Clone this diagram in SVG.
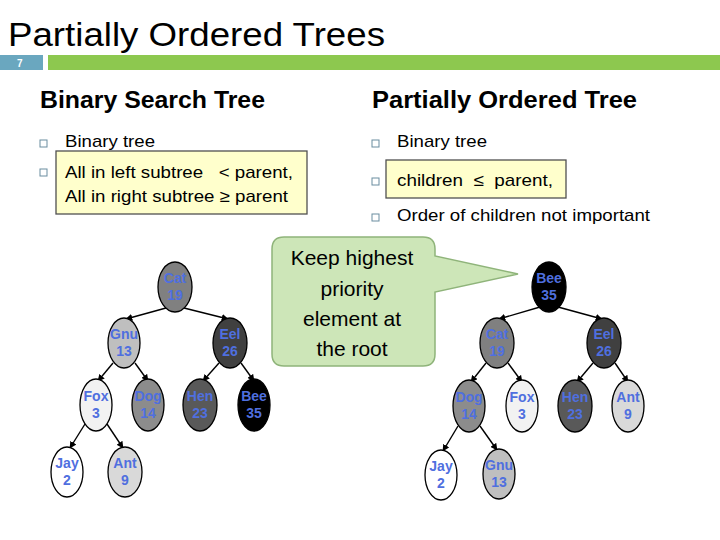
<svg xmlns="http://www.w3.org/2000/svg" width="720" height="540" viewBox="0 0 720 540">
<style>
.t{font-family:"Liberation Sans",Arial,sans-serif;fill:#000}
.h{font-family:"Liberation Sans",Arial,sans-serif;font-weight:bold;font-size:23px}
.b{font-family:"Liberation Sans",Arial,sans-serif;font-size:17px}
.n{font-family:"Liberation Sans",Arial,sans-serif;font-size:14px;font-weight:bold;fill:#4f6fdf;text-anchor:middle}
.e{stroke:#000;stroke-width:1.3}
.bul{fill:#fff;stroke:#6a8da0;stroke-width:1}
.c{stroke:#000;stroke-width:1.4;fill:none;marker-end:url(#ah)}
.cl{font-family:"Liberation Sans",Arial,sans-serif;font-size:21px;text-anchor:middle}
</style>
<defs>
<marker id="ah" viewBox="0 0 10 10" refX="9" refY="5" markerWidth="7" markerHeight="7" orient="auto" markerUnits="userSpaceOnUse">
<path d="M0,0 L10,5 L0,10 z" fill="#000"/>
</marker>
</defs>
<rect width="720" height="540" fill="#fff"/>
<text x="8" y="46" class="t" font-size="34" textLength="377" lengthAdjust="spacingAndGlyphs">Partially Ordered Trees</text>
<rect x="0" y="55" width="43" height="15" fill="#6aa7bf"/>
<text x="17" y="67" font-family="Liberation Sans,Arial,sans-serif" font-size="10" font-weight="bold" fill="#fff">7</text>
<rect x="48" y="55" width="672" height="15" fill="#8dc84f"/>

<text x="40" y="108" class="h" textLength="225" lengthAdjust="spacingAndGlyphs">Binary Search Tree</text>
<rect x="40" y="140" width="7" height="7" class="bul"/>
<text x="65" y="147" class="b" textLength="90" lengthAdjust="spacingAndGlyphs">Binary tree</text>
<rect x="40" y="169" width="7" height="7" class="bul"/>
<rect x="56" y="151" width="251" height="63" fill="#ffffcc" stroke="#505050" stroke-width="1.3"/>
<text x="65" y="178" class="b" xml:space="preserve" textLength="228" lengthAdjust="spacingAndGlyphs">All in left subtree   &lt; parent,</text>
<text x="65" y="202" class="b" textLength="223" lengthAdjust="spacingAndGlyphs">All in right subtree ≥ parent</text>

<text x="372" y="108" class="h" textLength="265" lengthAdjust="spacingAndGlyphs">Partially Ordered Tree</text>
<rect x="372" y="140" width="7" height="7" class="bul"/>
<text x="397" y="147" class="b" textLength="90" lengthAdjust="spacingAndGlyphs">Binary tree</text>
<rect x="372" y="178" width="7" height="7" class="bul"/>
<rect x="386" y="160" width="180" height="38" fill="#ffffcc" stroke="#505050" stroke-width="1.3"/>
<text x="397" y="186" class="b" xml:space="preserve" textLength="156" lengthAdjust="spacingAndGlyphs">children  ≤  parent,</text>
<rect x="372" y="214" width="7" height="7" class="bul"/>
<text x="397" y="221" class="b" textLength="253" lengthAdjust="spacingAndGlyphs">Order of children not important</text>

<g id="callout">
<path d="M284,237 H423 Q435,237 435,249 V256 L518,274 L435,292 V354 Q435,366 423,366 H284 Q272,366 272,354 V249 Q272,237 284,237 Z" fill="#cde6b8" stroke="#8fb47a" stroke-width="1.5"/>
<text x="352" y="265" class="cl">Keep highest</text>
<text x="352" y="296" class="cl">priority</text>
<text x="352" y="326" class="cl">element at</text>
<text x="352" y="356" class="cl">the root</text>
</g>

<g id="connectors">
<line x1="166" y1="308" x2="126" y2="319" class="c"/>
<line x1="184" y1="308" x2="228" y2="319" class="c"/>
<line x1="113" y1="363" x2="98" y2="381" class="c"/>
<line x1="135" y1="363" x2="148" y2="381" class="c"/>
<line x1="219" y1="363" x2="203" y2="381" class="c"/>
<line x1="241" y1="363" x2="254" y2="381" class="c"/>
<line x1="85" y1="424" x2="70" y2="448" class="c"/>
<line x1="107" y1="424" x2="123" y2="448" class="c"/>

<line x1="540" y1="307" x2="499" y2="319" class="c"/>
<line x1="558" y1="307" x2="602" y2="319" class="c"/>
<line x1="486" y1="363" x2="471" y2="382" class="c"/>
<line x1="508" y1="363" x2="522" y2="382" class="c"/>
<line x1="593" y1="363" x2="577" y2="382" class="c"/>
<line x1="615" y1="363" x2="628" y2="382" class="c"/>
<line x1="458" y1="426" x2="443" y2="451" class="c"/>
<line x1="480" y1="426" x2="497" y2="450" class="c"/>
</g>

<g id="L-cat"><ellipse cx="175" cy="287" rx="17" ry="25" fill="#808080" class="e"/><text x="175" y="283" class="n">Cat</text><text x="175" y="300" class="n">19</text></g>
<g id="L-gnu"><ellipse cx="124" cy="343" rx="16" ry="25" fill="#bfbfbf" class="e"/><text x="124" y="339" class="n">Gnu</text><text x="124" y="356" class="n">13</text></g>
<g id="L-eel"><ellipse cx="230" cy="343" rx="17" ry="25" fill="#404040" class="e"/><text x="230" y="339" class="n">Eel</text><text x="230" y="356" class="n">26</text></g>
<g id="L-fox"><ellipse cx="96" cy="405" rx="16" ry="26" fill="#f2f2f2" class="e"/><text x="96" y="401" class="n">Fox</text><text x="96" y="418" class="n">3</text></g>
<g id="L-dog"><ellipse cx="148" cy="405" rx="16" ry="26" fill="#8c8c8c" class="e"/><text x="148" y="401" class="n">Dog</text><text x="148" y="418" class="n">14</text></g>
<g id="L-hen"><ellipse cx="200" cy="405" rx="17" ry="26" fill="#595959" class="e"/><text x="200" y="401" class="n">Hen</text><text x="200" y="418" class="n">23</text></g>
<g id="L-bee"><ellipse cx="254" cy="405" rx="16" ry="26" fill="#000" class="e"/><text x="254" y="401" class="n">Bee</text><text x="254" y="418" class="n">35</text></g>
<g id="L-jay"><ellipse cx="67" cy="472" rx="16" ry="25" fill="#fff" class="e"/><text x="67" y="468" class="n">Jay</text><text x="67" y="485" class="n">2</text></g>
<g id="L-ant"><ellipse cx="125" cy="472" rx="17" ry="25" fill="#d9d9d9" class="e"/><text x="125" y="468" class="n">Ant</text><text x="125" y="485" class="n">9</text></g>

<g id="R-bee"><ellipse cx="549" cy="287" rx="17" ry="25" fill="#000" class="e"/><text x="549" y="283" class="n">Bee</text><text x="549" y="300" class="n">35</text></g>
<g id="R-cat"><ellipse cx="497" cy="343" rx="17" ry="25" fill="#808080" class="e"/><text x="497" y="339" class="n">Cat</text><text x="497" y="356" class="n">19</text></g>
<g id="R-eel"><ellipse cx="604" cy="343" rx="17" ry="25" fill="#404040" class="e"/><text x="604" y="339" class="n">Eel</text><text x="604" y="356" class="n">26</text></g>
<g id="R-dog"><ellipse cx="469" cy="406" rx="16" ry="26" fill="#8c8c8c" class="e"/><text x="469" y="402" class="n">Dog</text><text x="469" y="419" class="n">14</text></g>
<g id="R-fox"><ellipse cx="522" cy="406" rx="16" ry="26" fill="#f2f2f2" class="e"/><text x="522" y="402" class="n">Fox</text><text x="522" y="419" class="n">3</text></g>
<g id="R-hen"><ellipse cx="575" cy="406" rx="17" ry="26" fill="#595959" class="e"/><text x="575" y="402" class="n">Hen</text><text x="575" y="419" class="n">23</text></g>
<g id="R-ant"><ellipse cx="628" cy="406" rx="16" ry="26" fill="#d9d9d9" class="e"/><text x="628" y="402" class="n">Ant</text><text x="628" y="419" class="n">9</text></g>
<g id="R-jay"><ellipse cx="441" cy="475" rx="16" ry="25" fill="#fff" class="e"/><text x="441" y="471" class="n">Jay</text><text x="441" y="488" class="n">2</text></g>
<g id="R-gnu"><ellipse cx="499" cy="474" rx="16" ry="25" fill="#bfbfbf" class="e"/><text x="499" y="470" class="n">Gnu</text><text x="499" y="487" class="n">13</text></g>
</svg>
